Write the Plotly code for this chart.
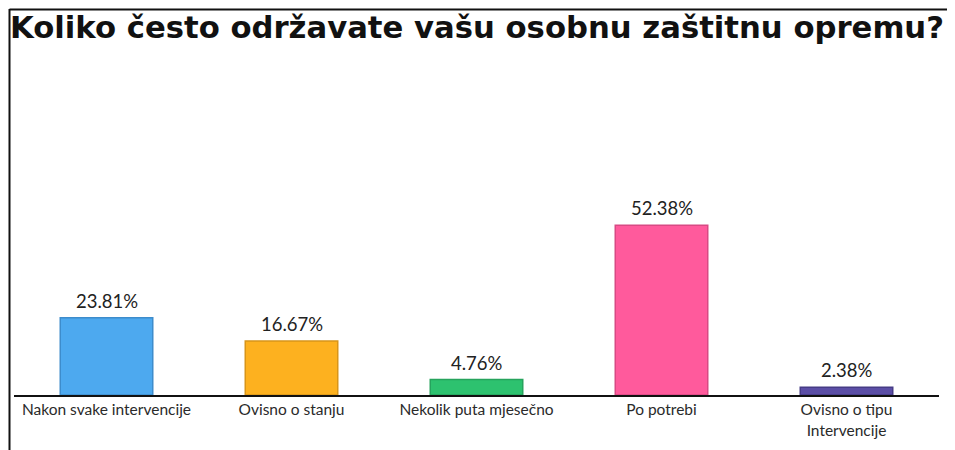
import plotly.graph_objects as go

categories = ["Nakon svake intervencije", "Ovisno o stanju", "Nekolik puta mjesečno",
              "Po potrebi", "Ovisno o tipu<br>Intervencije"]
values = [23.81, 16.67, 4.76, 52.38, 2.38]
value_labels = ["23.81%", "16.67%", "4.76%", "52.38%", "2.38%"]
colors = ["#4da9ef", "#fdb11f", "#2dc26f", "#ff5a9c", "#5b4ea6"]
edge_colors = ["#3d8ccc", "#d8951a", "#26a35d", "#d84a84", "#463c86"]
title = "Koliko često održavate vašu osobnu zaštitnu opremu?"

# page body has an 8px margin; figure sized to fill the rest of the window
W, H = 947, 442
L, R, T, B = 6, 16, 62.5, 55
pw = W - L - R
ph = H - T - B

fig = go.Figure(go.Bar(
    x=categories, y=values,
    marker=dict(color=colors, line=dict(color=edge_colors, width=1.5)),
    width=0.5, cliponaxis=False, hoverinfo="skip",
))

annotations = [
    dict(x=c, y=v, xref="x", yref="y", text=t, showarrow=False,
         yanchor="bottom", yshift=4,
         font=dict(size=18.5, color="#222222", family="Lato, sans-serif"))
    for c, v, t in zip(categories, values, value_labels)
]

fig.update_layout(
    width=W, height=H,
    margin=dict(l=L, r=R, t=T, b=B),
    paper_bgcolor="white", plot_bgcolor="white",
    font=dict(family="Lato, sans-serif", color="#333333"),
    showlegend=False,
    annotations=annotations,
    title=dict(text="<b>" + title + "</b>", x=2 / W, xanchor="left", xref="container",
               y=1 - 9 / H, yanchor="top", yref="container",
               font=dict(size=30.7, color="#111111", family="DejaVu Sans, sans-serif")),
    xaxis=dict(showline=True, linecolor="#111111", linewidth=1.5, showgrid=False,
               ticks="", tickfont=dict(size=15.5, color="#2a2a2a"), fixedrange=True),
    yaxis=dict(range=[0, 100], visible=False, showgrid=False, fixedrange=True),
    shapes=[
        dict(type="line", xref="paper", yref="paper",
             x0=(1.5 - L) / pw, x1=(1.5 - L) / pw, y0=(H - B - 0.5) / ph, y1=(H - B - H) / ph,
             line=dict(color="#111111", width=2)),
        dict(type="line", xref="paper", yref="paper",
             x0=(1.5 - L) / pw, x1=(W - L) / pw, y0=(H - B - 1) / ph, y1=(H - B - 1) / ph,
             line=dict(color="#111111", width=2)),
    ],
)

fig.write_html("out.html")
